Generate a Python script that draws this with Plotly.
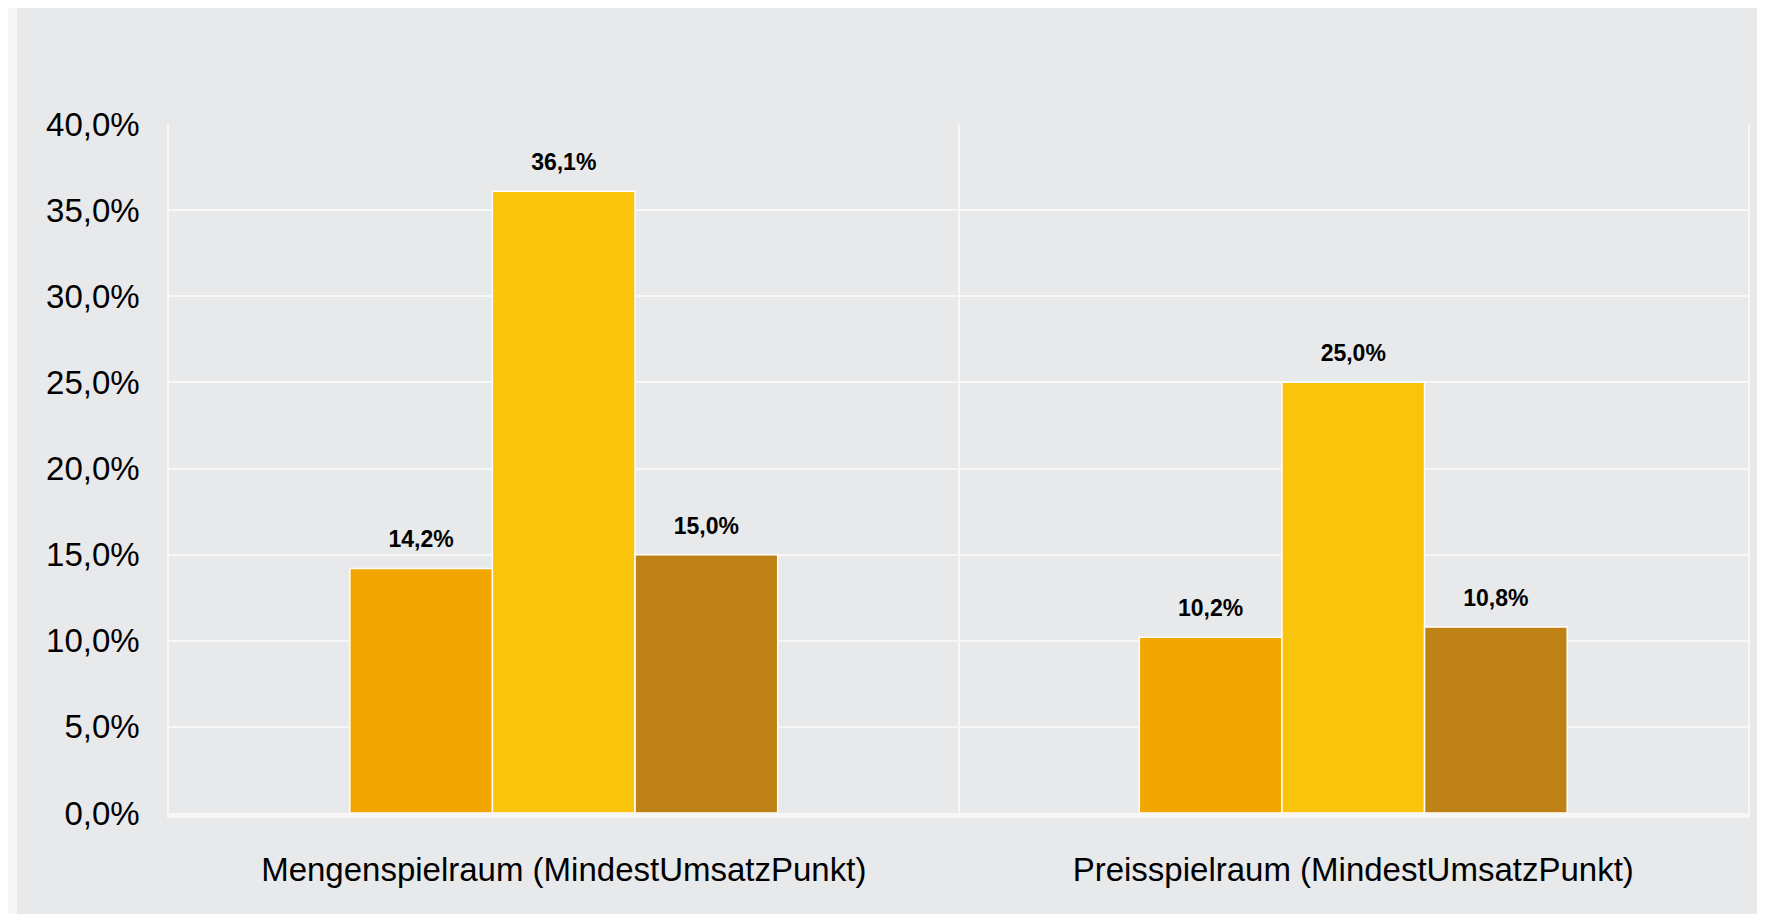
import plotly.graph_objects as go

categories = ["Mengenspielraum (MindestUmsatzPunkt)", "Preisspielraum (MindestUmsatzPunkt)"]
series_names = ["Reihe 1", "Reihe 2", "Reihe 3"]
series_values = [
    [14.2, 10.2],
    [36.1, 25.0],
    [15.0, 10.8],
]
bar_colors = ["#F3A600", "#FAC40C", "#BF8217"]

colors = {
    'page': '#f7f7f7',
    'background': '#e8e9eb',
    'grid': '#f7f7f7',
    'text': 'black'
}

# the page body adds an 8px offset, so the figure is a bit smaller than the window
W, H = 1757, 906
ML, MR, MT, MB = 161, 17, 116, 101
GAP = 0.458


def fmt(v):
    return f"<b>{v:.1f}%</b>".replace(".", ",")


fig = go.Figure()

for name, vals, col in zip(series_names, series_values, bar_colors):
    fig.add_trace(go.Bar(
        name=name, x=categories, y=vals,
        marker=dict(color=col, line=dict(color='white', width=1.5)),
        hoverinfo='skip',
    ))

# value labels, grouped like the bars, pushed up by an invisible marker
for name, vals in zip(series_names, series_values):
    fig.add_trace(go.Scatter(
        name=name, x=categories, y=vals,
        mode='markers+text',
        text=[fmt(v) for v in vals],
        textposition='top center',
        textfont=dict(size=23, color=colors['text'], family='Liberation Sans, Arial'),
        marker=dict(size=23, opacity=0),
        hoverinfo='skip',
    ))

# grey card with a light rim on the left
pw, ph = W - ML - MR, H - MT - MB
fig.add_shape(
    type='rect', xref='paper', yref='paper', layer='below',
    x0=(9 - ML) / pw, x1=(W - ML) / pw,
    y0=-MB / ph, y1=MT / ph + 1,
    fillcolor=colors['background'], line_width=0,
)

fig.update_xaxes(
    type='category', tickson='boundaries', showgrid=True,
    gridcolor=colors['grid'], gridwidth=1.5,
    showline=True, linecolor=colors['grid'], linewidth=5,
    ticks='', ticklabelstandoff=23,
    tickfont=dict(size=33),
)
fig.update_yaxes(
    range=[0, 40], dtick=5, tickformat='.1f', ticksuffix='%',
    showgrid=True, gridcolor=colors['grid'], gridwidth=1.5,
    showline=True, linecolor=colors['grid'], linewidth=1.5, mirror=True,
    zeroline=False, ticks='', ticklabelstandoff=21,
    tickfont=dict(size=33),
)
fig.update_layout(
    width=W, height=H,
    barmode='group', bargap=GAP, bargroupgap=0,
    scattermode='group', scattergap=GAP,
    separators=', ',
    showlegend=False,
    plot_bgcolor=colors['background'],
    paper_bgcolor=colors['page'],
    font=dict(family='Liberation Sans, Arial', color=colors['text']),
    margin=dict(l=ML, r=MR, t=MT, b=MB, pad=0),
)

fig.write_html("out.html")
